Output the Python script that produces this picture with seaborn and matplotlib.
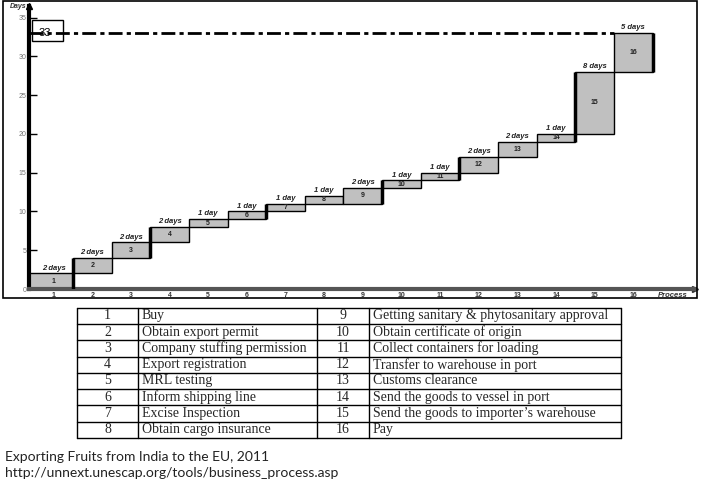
import pandas as pd
import matplotlib.pyplot as plt
from matplotlib.patches import Rectangle
import seaborn as sns

# dados do grafico
processo = list(range(1, 17))
dias = [2, 2, 2, 2, 1, 1, 1, 1, 2, 1, 1, 2, 2, 1, 8, 5]
inicio = [0, 2, 4, 6, 8, 9, 10, 11, 11, 13, 14, 15, 17, 19, 20, 28]
total_dias = 33
ticks_y = [0, 5, 10, 15, 20, 25, 30, 35]
borda_grossa = [2, 4, 7, 10, 12, 15]  # processos com borda esquerda grossa

etapas_esq = ["Buy", "Obtain export permit", "Company stuffing permission",
              "Export registration", "MRL testing", "Inform shipping line",
              "Excise Inspection", "Obtain cargo insurance"]
etapas_dir = ["Getting sanitary & phytosanitary approval", "Obtain certificate of origin",
              "Collect containers for loading", "Transfer to warehouse in port",
              "Customs clearance", "Send the goods to vessel in port",
              "Send the goods to importer\u2019s warehouse", "Pay"]
legenda = ["Exporting Fruits from India to the EU, 2011",
           "http://unnext.unescap.org/tools/business_process.asp"]

sns.set_theme(style="white")
plt.rcParams['font.family'] = ['Liberation Sans', 'DejaVu Sans']

df = pd.DataFrame({"processo": processo, "dias": dias, "inicio": inicio})

W, H = 704, 491
fig = plt.figure(figsize=(W / 100, H / 100), dpi=100)
ax = fig.add_axes([29 / W, 1 - 289 / H, (695 - 29) / W, (289 - 6) / H])

sns.barplot(data=df, x="processo", y="dias", bottom=df["inicio"].tolist(),
            native_scale=True, width=1, color="#c0c0c0", saturation=1,
            edgecolor="black", linewidth=1, errorbar=None, ax=ax)

ax.set_xlim(0.36, 17.6)
ax.set_ylim(0, 36.5)
x0 = ax.get_xlim()[0]

# primeira barra vai ate o eixo
p0 = ax.patches[0]
dir0 = p0.get_x() + p0.get_width()
p0.set_x(x0)
p0.set_width(dir0 - x0)

# bordas grossas
for p in borda_grossa:
    i = p - 1
    ax.vlines(processo[i] - 0.5, inicio[i - 1], inicio[i] + dias[i], color="black", lw=2.5, zorder=4)
ax.vlines(processo[-1] + 0.5, inicio[-1], inicio[-1] + dias[-1], color="black", lw=2.5, zorder=4)

# rotulos
for p, d, s in zip(processo, dias, inicio):
    ax.text(p, s + d / 2, str(p), ha="center", va="center", fontsize=5, fontweight="bold", color="#222")
    txt = f"{d} day" if d == 1 else f"{d} days"
    ax.text(p, s + d + 0.25, txt, ha="center", va="bottom", fontsize=5.5,
            fontweight="bold", fontstyle="italic", color="#222")

# linha do total
ax.plot([x0, processo[-1] - 0.5], [total_dias, total_dias], color="black", lw=2,
        ls=(0, (5, 1.5, 1.5, 1.5)), zorder=5)
ax.add_patch(Rectangle((0.004, 0.877), 0.047, 0.072, transform=ax.transAxes,
                       fill=False, ec="black", lw=1, clip_on=False))
ax.text(0.024, 0.905, str(total_dias), transform=ax.transAxes, ha="center", va="center",
        fontsize=8, color="black")

# eixos
ax.set_xticks(processo)
ax.set_xticklabels([str(p) for p in processo], fontsize=5, fontweight="bold", color="#333")
ax.set_yticks(ticks_y)
ax.set_yticklabels([str(t) for t in ticks_y], fontsize=5, color="#777")
ax.tick_params(axis="x", length=0, pad=2)
ax.tick_params(axis="y", direction="in", length=6, width=1, color="black", pad=2, left=True)
ax.set_xlabel("")
ax.set_ylabel("")
for lado in ["top", "right"]:
    ax.spines[lado].set_visible(False)
ax.spines["left"].set_linewidth(3)
ax.spines["left"].set_color("black")
ax.spines["bottom"].set_linewidth(3)
ax.spines["bottom"].set_color("#555")
ax.plot(1, 0, ">", transform=ax.transAxes, clip_on=False, color="#333", ms=4)
ax.plot(0, 1, "^", transform=ax.transAxes, clip_on=False, color="black", ms=4)
ax.text(-0.004, 1.0, "Days", transform=ax.transAxes, ha="right", va="center",
        fontsize=5, fontweight="bold", fontstyle="italic", color="#333")
ax.text(0.9895, -0.012, "Process", transform=ax.transAxes, ha="right", va="top",
        fontsize=5.5, fontweight="bold", fontstyle="italic", color="#333")

# moldura
fig.add_artist(Rectangle((2.7 / W, 1 - 298 / H), (696.7 - 2.7) / W, (298 - 1) / H,
                         transform=fig.transFigure, fill=False, ec="black", lw=1.2))

# tabela
tab = fig.add_axes([77 / W, 1 - 438 / H, (621 - 77) / W, (438 - 307.7) / H])
tab.set_xlim(77, 621)
tab.set_ylim(len(etapas_esq), 0)
tab.axis("off")
cols = [77, 138, 317, 369, 621]
for c in cols:
    tab.axvline(c, color="black", lw=1, clip_on=False)
for r in range(len(etapas_esq) + 1):
    tab.axhline(r, color="black", lw=1, clip_on=False)
n = len(etapas_esq)
for r, (a, b) in enumerate(zip(etapas_esq, etapas_dir)):
    tab.text((cols[0] + cols[1]) / 2, r + 0.5, str(r + 1), ha="center", va="center",
             family="Liberation Serif", fontsize=10)
    tab.text(cols[1] + 4, r + 0.5, a, ha="left", va="center", family="Liberation Serif", fontsize=10)
    tab.text((cols[2] + cols[3]) / 2, r + 0.5, str(r + 1 + n), ha="center", va="center",
             family="Liberation Serif", fontsize=10)
    tab.text(cols[3] + 4, r + 0.5, b, ha="left", va="center", family="Liberation Serif", fontsize=10)

# fonte
fig.text(4.7 / W, 1 - 460.7 / H, legenda[0], ha="left", va="baseline", family="Lato", fontsize=10, color="#222")
fig.text(4.7 / W, 1 - 476.7 / H, legenda[1], ha="left", va="baseline", family="Lato", fontsize=10, color="#222")

fig.savefig("out.png", dpi=100)
